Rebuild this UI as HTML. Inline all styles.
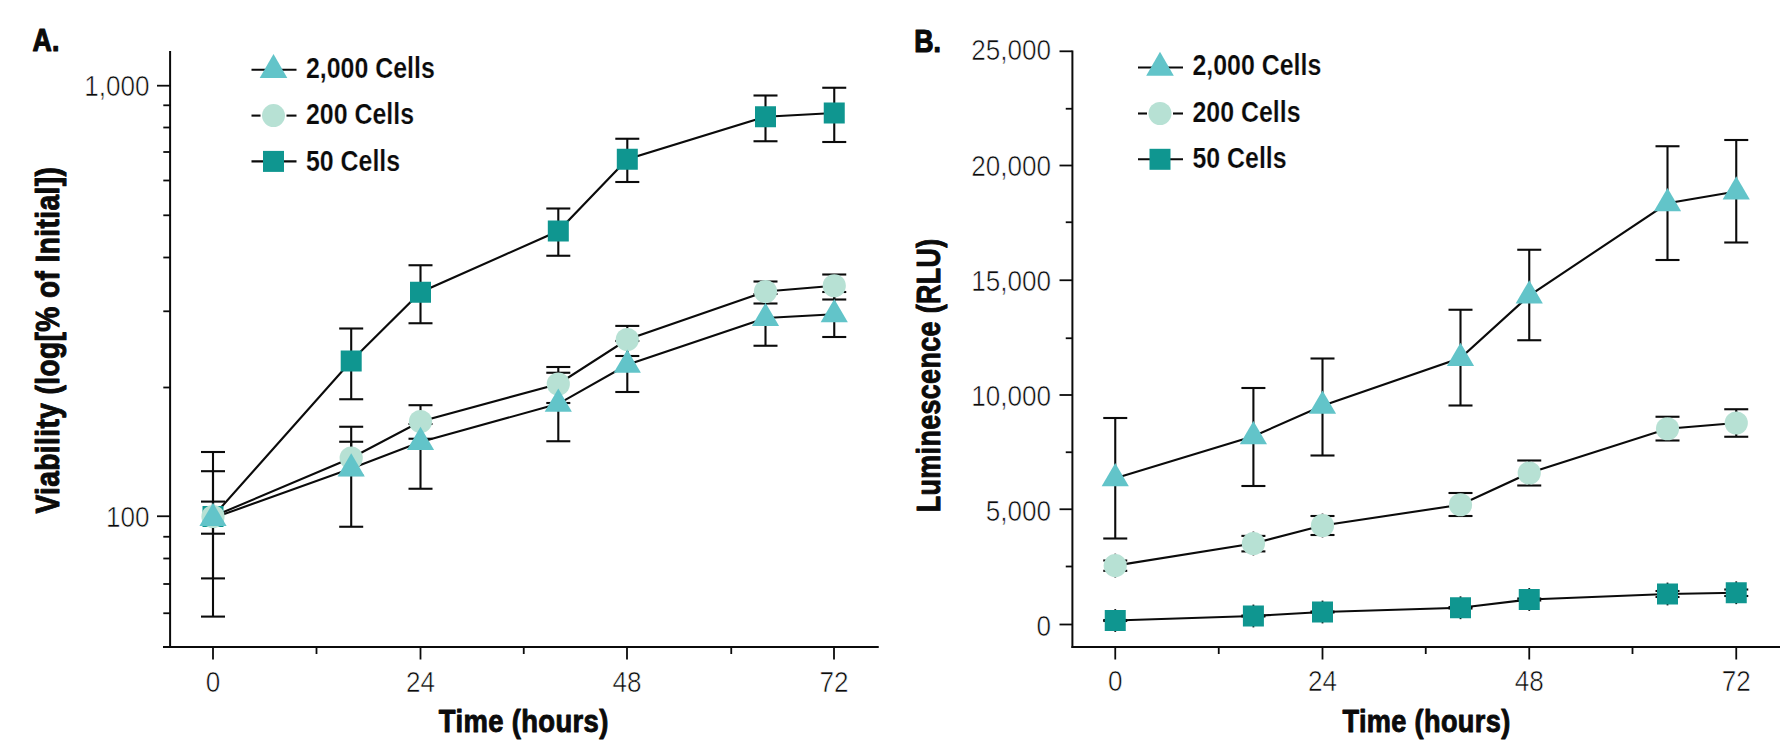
<!DOCTYPE html>
<html lang="en"><head><meta charset="utf-8"><title>Cell viability and luminescence over time</title>
<style>html,body{margin:0;padding:0;background:#fff}svg{display:block}text{white-space:pre}</style></head>
<body>
<svg width="1780" height="756" viewBox="0 0 1780 756" font-family="'Liberation Sans', sans-serif" fill="#0b0b0b">
<rect width="1780" height="756" fill="#fff"/>
<g stroke="#0b0b0b" stroke-linecap="butt">
<line x1="170.1" y1="51" x2="170.1" y2="647.9" stroke-width="2.0" />
<line x1="163" y1="647" x2="878.75" y2="647" stroke-width="2.0" />
<line x1="157" y1="85.7" x2="170.1" y2="85.7" stroke-width="1.8" />
<line x1="157" y1="516.25" x2="170.1" y2="516.25" stroke-width="1.8" />
<line x1="163.3" y1="105.3" x2="170.1" y2="105.3" stroke-width="1.8" />
<line x1="163.3" y1="127.5" x2="170.1" y2="127.5" stroke-width="1.8" />
<line x1="163.3" y1="152" x2="170.1" y2="152" stroke-width="1.8" />
<line x1="163.3" y1="180.5" x2="170.1" y2="180.5" stroke-width="1.8" />
<line x1="163.3" y1="215.3" x2="170.1" y2="215.3" stroke-width="1.8" />
<line x1="163.3" y1="257.5" x2="170.1" y2="257.5" stroke-width="1.8" />
<line x1="163.3" y1="311.3" x2="170.1" y2="311.3" stroke-width="1.8" />
<line x1="163.3" y1="387.5" x2="170.1" y2="387.5" stroke-width="1.8" />
<line x1="163.3" y1="536.75" x2="170.1" y2="536.75" stroke-width="1.8" />
<line x1="163.3" y1="558.5" x2="170.1" y2="558.5" stroke-width="1.8" />
<line x1="163.3" y1="584" x2="170.1" y2="584" stroke-width="1.8" />
<line x1="163.3" y1="613.25" x2="170.1" y2="613.25" stroke-width="1.8" />
<line x1="213" y1="647" x2="213" y2="659.5" stroke-width="1.8" />
<line x1="420.5" y1="647" x2="420.5" y2="659.5" stroke-width="1.8" />
<line x1="627" y1="647" x2="627" y2="659.5" stroke-width="1.8" />
<line x1="834" y1="647" x2="834" y2="659.5" stroke-width="1.8" />
<line x1="316.5" y1="647" x2="316.5" y2="654" stroke-width="1.8" />
<line x1="523.75" y1="647" x2="523.75" y2="654" stroke-width="1.8" />
<line x1="731.25" y1="647" x2="731.25" y2="654" stroke-width="1.8" />
<line x1="1072.4" y1="50.4" x2="1072.4" y2="647.9" stroke-width="2.0" />
<line x1="1071.5" y1="647" x2="1780" y2="647" stroke-width="2.0" />
<line x1="1059.5" y1="51.3" x2="1072.4" y2="51.3" stroke-width="1.8" />
<line x1="1059.5" y1="165.5" x2="1072.4" y2="165.5" stroke-width="1.8" />
<line x1="1059.5" y1="280.25" x2="1072.4" y2="280.25" stroke-width="1.8" />
<line x1="1059.5" y1="395" x2="1072.4" y2="395" stroke-width="1.8" />
<line x1="1059.5" y1="509.25" x2="1072.4" y2="509.25" stroke-width="1.8" />
<line x1="1059.5" y1="624.5" x2="1072.4" y2="624.5" stroke-width="1.8" />
<line x1="1065.75" y1="108.75" x2="1072.4" y2="108.75" stroke-width="1.8" />
<line x1="1065.75" y1="222.25" x2="1072.4" y2="222.25" stroke-width="1.8" />
<line x1="1065.75" y1="338.25" x2="1072.4" y2="338.25" stroke-width="1.8" />
<line x1="1065.75" y1="452.25" x2="1072.4" y2="452.25" stroke-width="1.8" />
<line x1="1065.75" y1="566.5" x2="1072.4" y2="566.5" stroke-width="1.8" />
<line x1="1115.25" y1="647" x2="1115.25" y2="659.5" stroke-width="1.8" />
<line x1="1322.5" y1="647" x2="1322.5" y2="659.5" stroke-width="1.8" />
<line x1="1529.25" y1="647" x2="1529.25" y2="659.5" stroke-width="1.8" />
<line x1="1736.25" y1="647" x2="1736.25" y2="659.5" stroke-width="1.8" />
<line x1="1218.75" y1="647" x2="1218.75" y2="654" stroke-width="1.8" />
<line x1="1425.75" y1="647" x2="1425.75" y2="654" stroke-width="1.8" />
<line x1="1632.5" y1="647" x2="1632.5" y2="654" stroke-width="1.8" />
<line x1="213" y1="452" x2="213" y2="616.6" stroke-width="2.1" />
<line x1="201.0" y1="452" x2="225.0" y2="452" stroke-width="2.1" />
<line x1="201.0" y1="616.6" x2="225.0" y2="616.6" stroke-width="2.1" />
<line x1="351.2" y1="328.5" x2="351.2" y2="399.25" stroke-width="2.1" />
<line x1="339.2" y1="328.5" x2="363.2" y2="328.5" stroke-width="2.1" />
<line x1="339.2" y1="399.25" x2="363.2" y2="399.25" stroke-width="2.1" />
<line x1="420.5" y1="265.25" x2="420.5" y2="323.25" stroke-width="2.1" />
<line x1="408.5" y1="265.25" x2="432.5" y2="265.25" stroke-width="2.1" />
<line x1="408.5" y1="323.25" x2="432.5" y2="323.25" stroke-width="2.1" />
<line x1="558.3" y1="208.5" x2="558.3" y2="255.75" stroke-width="2.1" />
<line x1="546.3" y1="208.5" x2="570.3" y2="208.5" stroke-width="2.1" />
<line x1="546.3" y1="255.75" x2="570.3" y2="255.75" stroke-width="2.1" />
<line x1="627.3" y1="138.75" x2="627.3" y2="182" stroke-width="2.1" />
<line x1="615.3" y1="138.75" x2="639.3" y2="138.75" stroke-width="2.1" />
<line x1="615.3" y1="182" x2="639.3" y2="182" stroke-width="2.1" />
<line x1="765.5" y1="95.5" x2="765.5" y2="141.25" stroke-width="2.1" />
<line x1="753.5" y1="95.5" x2="777.5" y2="95.5" stroke-width="2.1" />
<line x1="753.5" y1="141.25" x2="777.5" y2="141.25" stroke-width="2.1" />
<line x1="834.25" y1="87.75" x2="834.25" y2="142" stroke-width="2.1" />
<line x1="822.25" y1="87.75" x2="846.25" y2="87.75" stroke-width="2.1" />
<line x1="822.25" y1="142" x2="846.25" y2="142" stroke-width="2.1" />
<line x1="213" y1="471.2" x2="213" y2="578.4" stroke-width="2.1" />
<line x1="201.0" y1="471.2" x2="225.0" y2="471.2" stroke-width="2.1" />
<line x1="201.0" y1="578.4" x2="225.0" y2="578.4" stroke-width="2.1" />
<line x1="351.2" y1="441.75" x2="351.2" y2="475" stroke-width="2.1" />
<line x1="339.2" y1="441.75" x2="363.2" y2="441.75" stroke-width="2.1" />
<line x1="339.2" y1="475" x2="363.2" y2="475" stroke-width="2.1" />
<line x1="420.5" y1="405.2" x2="420.5" y2="438.75" stroke-width="2.1" />
<line x1="408.5" y1="405.2" x2="432.5" y2="405.2" stroke-width="2.1" />
<line x1="408.5" y1="438.75" x2="432.5" y2="438.75" stroke-width="2.1" />
<line x1="558.3" y1="367" x2="558.3" y2="403" stroke-width="2.1" />
<line x1="546.3" y1="367" x2="570.3" y2="367" stroke-width="2.1" />
<line x1="546.3" y1="403" x2="570.3" y2="403" stroke-width="2.1" />
<line x1="627.3" y1="325.9" x2="627.3" y2="356" stroke-width="2.1" />
<line x1="615.3" y1="325.9" x2="639.3" y2="325.9" stroke-width="2.1" />
<line x1="615.3" y1="356" x2="639.3" y2="356" stroke-width="2.1" />
<line x1="765.5" y1="281.5" x2="765.5" y2="303.5" stroke-width="2.1" />
<line x1="753.5" y1="281.5" x2="777.5" y2="281.5" stroke-width="2.1" />
<line x1="753.5" y1="303.5" x2="777.5" y2="303.5" stroke-width="2.1" />
<line x1="834.25" y1="274.5" x2="834.25" y2="299.5" stroke-width="2.1" />
<line x1="822.25" y1="274.5" x2="846.25" y2="274.5" stroke-width="2.1" />
<line x1="822.25" y1="299.5" x2="846.25" y2="299.5" stroke-width="2.1" />
<line x1="213" y1="501.6" x2="213" y2="533.7" stroke-width="2.1" />
<line x1="201.0" y1="501.6" x2="225.0" y2="501.6" stroke-width="2.1" />
<line x1="201.0" y1="533.7" x2="225.0" y2="533.7" stroke-width="2.1" />
<line x1="351.2" y1="426.75" x2="351.2" y2="526.75" stroke-width="2.1" />
<line x1="339.2" y1="426.75" x2="363.2" y2="426.75" stroke-width="2.1" />
<line x1="339.2" y1="526.75" x2="363.2" y2="526.75" stroke-width="2.1" />
<line x1="420.5" y1="424" x2="420.5" y2="488.75" stroke-width="2.1" />
<line x1="408.5" y1="424" x2="432.5" y2="424" stroke-width="2.1" />
<line x1="408.5" y1="488.75" x2="432.5" y2="488.75" stroke-width="2.1" />
<line x1="558.3" y1="372.75" x2="558.3" y2="441.25" stroke-width="2.1" />
<line x1="546.3" y1="372.75" x2="570.3" y2="372.75" stroke-width="2.1" />
<line x1="546.3" y1="441.25" x2="570.3" y2="441.25" stroke-width="2.1" />
<line x1="627.3" y1="341" x2="627.3" y2="392" stroke-width="2.1" />
<line x1="615.3" y1="341" x2="639.3" y2="341" stroke-width="2.1" />
<line x1="615.3" y1="392" x2="639.3" y2="392" stroke-width="2.1" />
<line x1="765.5" y1="294" x2="765.5" y2="345.75" stroke-width="2.1" />
<line x1="753.5" y1="294" x2="777.5" y2="294" stroke-width="2.1" />
<line x1="753.5" y1="345.75" x2="777.5" y2="345.75" stroke-width="2.1" />
<line x1="834.25" y1="292" x2="834.25" y2="337" stroke-width="2.1" />
<line x1="822.25" y1="292" x2="846.25" y2="292" stroke-width="2.1" />
<line x1="822.25" y1="337" x2="846.25" y2="337" stroke-width="2.1" />
<polyline fill="none" stroke-width="2.1" points="213,516.5 351.2,361 420.5,292.25 558.3,231 627.3,159.25 765.5,116.75 834.25,113"/>
<polyline fill="none" stroke-width="2.1" points="213,516.5 351.2,458 420.5,421.5 558.3,384 627.3,339.5 765.5,291.5 834.25,285.75"/>
<polyline fill="none" stroke-width="2.1" points="213,518.1 351.2,468.6 420.5,442.05 558.3,403.8 627.3,364.8 765.5,318.05 834.25,314.3"/>
</g><g>
<rect x="202.5" y="506.0" width="21" height="21" fill="#0F9690"/>
<rect x="340.7" y="350.5" width="21" height="21" fill="#0F9690"/>
<rect x="410.0" y="281.75" width="21" height="21" fill="#0F9690"/>
<rect x="547.8" y="220.5" width="21" height="21" fill="#0F9690"/>
<rect x="616.8" y="148.75" width="21" height="21" fill="#0F9690"/>
<rect x="755.0" y="106.25" width="21" height="21" fill="#0F9690"/>
<rect x="823.75" y="102.5" width="21" height="21" fill="#0F9690"/>
<circle cx="213" cy="516.5" r="11.6" fill="#B7E1D4"/>
<circle cx="351.2" cy="458" r="11.6" fill="#B7E1D4"/>
<circle cx="420.5" cy="421.5" r="11.6" fill="#B7E1D4"/>
<circle cx="558.3" cy="384" r="11.6" fill="#B7E1D4"/>
<circle cx="627.3" cy="339.5" r="11.6" fill="#B7E1D4"/>
<circle cx="765.5" cy="291.5" r="11.6" fill="#B7E1D4"/>
<circle cx="834.25" cy="285.75" r="11.6" fill="#B7E1D4"/>
<polygon points="213,502.8 199.4,526.1 226.6,526.1" fill="#62C4C9"/>
<polygon points="351.2,453.3 337.59999999999997,476.6 364.8,476.6" fill="#62C4C9"/>
<polygon points="420.5,426.75 406.9,450.05 434.1,450.05" fill="#62C4C9"/>
<polygon points="558.3,388.5 544.6999999999999,411.8 571.9,411.8" fill="#62C4C9"/>
<polygon points="627.3,349.5 613.6999999999999,372.8 640.9,372.8" fill="#62C4C9"/>
<polygon points="765.5,302.75 751.9,326.05 779.1,326.05" fill="#62C4C9"/>
<polygon points="834.25,299 820.65,322.3 847.85,322.3" fill="#62C4C9"/>
</g><g stroke="#0b0b0b">
<line x1="1115.25" y1="620" x2="1115.25" y2="621" stroke-width="2.1" />
<line x1="1103.25" y1="620" x2="1127.25" y2="620" stroke-width="2.1" />
<line x1="1103.25" y1="621" x2="1127.25" y2="621" stroke-width="2.1" />
<line x1="1115.25" y1="609.1" x2="1115.25" y2="631.9" stroke-width="1.8" />
<line x1="1253.4" y1="615.5" x2="1253.4" y2="616.5" stroke-width="2.1" />
<line x1="1241.4" y1="615.5" x2="1265.4" y2="615.5" stroke-width="2.1" />
<line x1="1241.4" y1="616.5" x2="1265.4" y2="616.5" stroke-width="2.1" />
<line x1="1253.4" y1="604.6" x2="1253.4" y2="627.4" stroke-width="1.8" />
<line x1="1322.5" y1="611.5" x2="1322.5" y2="612.5" stroke-width="2.1" />
<line x1="1310.5" y1="611.5" x2="1334.5" y2="611.5" stroke-width="2.1" />
<line x1="1310.5" y1="612.5" x2="1334.5" y2="612.5" stroke-width="2.1" />
<line x1="1322.5" y1="600.6" x2="1322.5" y2="623.4" stroke-width="1.8" />
<line x1="1460.5" y1="607" x2="1460.5" y2="608.5" stroke-width="2.1" />
<line x1="1448.5" y1="607" x2="1472.5" y2="607" stroke-width="2.1" />
<line x1="1448.5" y1="608.5" x2="1472.5" y2="608.5" stroke-width="2.1" />
<line x1="1460.5" y1="596.35" x2="1460.5" y2="619.15" stroke-width="1.8" />
<line x1="1529.25" y1="598.5" x2="1529.25" y2="600.5" stroke-width="2.1" />
<line x1="1517.25" y1="598.5" x2="1541.25" y2="598.5" stroke-width="2.1" />
<line x1="1517.25" y1="600.5" x2="1541.25" y2="600.5" stroke-width="2.1" />
<line x1="1529.25" y1="588.1" x2="1529.25" y2="610.9" stroke-width="1.8" />
<line x1="1667.5" y1="591" x2="1667.5" y2="597" stroke-width="2.1" />
<line x1="1655.5" y1="591" x2="1679.5" y2="591" stroke-width="2.1" />
<line x1="1655.5" y1="597" x2="1679.5" y2="597" stroke-width="2.1" />
<line x1="1667.5" y1="582.6" x2="1667.5" y2="605.4" stroke-width="1.8" />
<line x1="1736.25" y1="589.5" x2="1736.25" y2="596" stroke-width="2.1" />
<line x1="1724.25" y1="589.5" x2="1748.25" y2="589.5" stroke-width="2.1" />
<line x1="1724.25" y1="596" x2="1748.25" y2="596" stroke-width="2.1" />
<line x1="1736.25" y1="581.35" x2="1736.25" y2="604.15" stroke-width="1.8" />
<line x1="1115.25" y1="560.5" x2="1115.25" y2="570.8" stroke-width="2.1" />
<line x1="1103.25" y1="560.5" x2="1127.25" y2="560.5" stroke-width="2.1" />
<line x1="1103.25" y1="570.8" x2="1127.25" y2="570.8" stroke-width="2.1" />
<line x1="1115.25" y1="553.7" x2="1115.25" y2="577.5" stroke-width="1.8" />
<line x1="1253.4" y1="535.9" x2="1253.4" y2="551.4" stroke-width="2.1" />
<line x1="1241.4" y1="535.9" x2="1265.4" y2="535.9" stroke-width="2.1" />
<line x1="1241.4" y1="551.4" x2="1265.4" y2="551.4" stroke-width="2.1" />
<line x1="1253.4" y1="531.6" x2="1253.4" y2="555.4" stroke-width="1.8" />
<line x1="1322.5" y1="516" x2="1322.5" y2="535" stroke-width="2.1" />
<line x1="1310.5" y1="516" x2="1334.5" y2="516" stroke-width="2.1" />
<line x1="1310.5" y1="535" x2="1334.5" y2="535" stroke-width="2.1" />
<line x1="1322.5" y1="513.6" x2="1322.5" y2="537.4" stroke-width="1.8" />
<line x1="1460.5" y1="493" x2="1460.5" y2="516" stroke-width="2.1" />
<line x1="1448.5" y1="493" x2="1472.5" y2="493" stroke-width="2.1" />
<line x1="1448.5" y1="516" x2="1472.5" y2="516" stroke-width="2.1" />
<line x1="1460.5" y1="492.85" x2="1460.5" y2="516.65" stroke-width="1.8" />
<line x1="1529.25" y1="460.5" x2="1529.25" y2="485.5" stroke-width="2.1" />
<line x1="1517.25" y1="460.5" x2="1541.25" y2="460.5" stroke-width="2.1" />
<line x1="1517.25" y1="485.5" x2="1541.25" y2="485.5" stroke-width="2.1" />
<line x1="1529.25" y1="461.1" x2="1529.25" y2="484.9" stroke-width="1.8" />
<line x1="1667.5" y1="416.75" x2="1667.5" y2="440.5" stroke-width="2.1" />
<line x1="1655.5" y1="416.75" x2="1679.5" y2="416.75" stroke-width="2.1" />
<line x1="1655.5" y1="440.5" x2="1679.5" y2="440.5" stroke-width="2.1" />
<line x1="1667.5" y1="416.85" x2="1667.5" y2="440.65" stroke-width="1.8" />
<line x1="1736.25" y1="409.25" x2="1736.25" y2="436.75" stroke-width="2.1" />
<line x1="1724.25" y1="409.25" x2="1748.25" y2="409.25" stroke-width="2.1" />
<line x1="1724.25" y1="436.75" x2="1748.25" y2="436.75" stroke-width="2.1" />
<line x1="1736.25" y1="411.1" x2="1736.25" y2="434.9" stroke-width="1.8" />
<line x1="1115.25" y1="418" x2="1115.25" y2="538.5" stroke-width="2.1" />
<line x1="1103.25" y1="418" x2="1127.25" y2="418" stroke-width="2.1" />
<line x1="1103.25" y1="538.5" x2="1127.25" y2="538.5" stroke-width="2.1" />
<line x1="1253.4" y1="388" x2="1253.4" y2="486" stroke-width="2.1" />
<line x1="1241.4" y1="388" x2="1265.4" y2="388" stroke-width="2.1" />
<line x1="1241.4" y1="486" x2="1265.4" y2="486" stroke-width="2.1" />
<line x1="1322.5" y1="358.5" x2="1322.5" y2="455.5" stroke-width="2.1" />
<line x1="1310.5" y1="358.5" x2="1334.5" y2="358.5" stroke-width="2.1" />
<line x1="1310.5" y1="455.5" x2="1334.5" y2="455.5" stroke-width="2.1" />
<line x1="1460.5" y1="309.75" x2="1460.5" y2="405.5" stroke-width="2.1" />
<line x1="1448.5" y1="309.75" x2="1472.5" y2="309.75" stroke-width="2.1" />
<line x1="1448.5" y1="405.5" x2="1472.5" y2="405.5" stroke-width="2.1" />
<line x1="1529.25" y1="249.75" x2="1529.25" y2="340.25" stroke-width="2.1" />
<line x1="1517.25" y1="249.75" x2="1541.25" y2="249.75" stroke-width="2.1" />
<line x1="1517.25" y1="340.25" x2="1541.25" y2="340.25" stroke-width="2.1" />
<line x1="1667.5" y1="146.25" x2="1667.5" y2="260" stroke-width="2.1" />
<line x1="1655.5" y1="146.25" x2="1679.5" y2="146.25" stroke-width="2.1" />
<line x1="1655.5" y1="260" x2="1679.5" y2="260" stroke-width="2.1" />
<line x1="1736.25" y1="140" x2="1736.25" y2="242.5" stroke-width="2.1" />
<line x1="1724.25" y1="140" x2="1748.25" y2="140" stroke-width="2.1" />
<line x1="1724.25" y1="242.5" x2="1748.25" y2="242.5" stroke-width="2.1" />
<polyline fill="none" stroke-width="2.1" points="1115.25,620.5 1253.4,616 1322.5,612 1460.5,607.75 1529.25,599.5 1667.5,594 1736.25,592.75"/>
<polyline fill="none" stroke-width="2.1" points="1115.25,565.6 1253.4,543.5 1322.5,525.5 1460.5,504.75 1529.25,473 1667.5,428.75 1736.25,423"/>
<polyline fill="none" stroke-width="2.1" points="1115.25,478.3 1253.4,436.3 1322.5,405.8 1460.5,358.05 1529.25,295.55 1667.5,203.3 1736.25,191.55"/>
</g><g>
<rect x="1104.75" y="610.0" width="21" height="21" fill="#0F9690"/>
<rect x="1242.9" y="605.5" width="21" height="21" fill="#0F9690"/>
<rect x="1312.0" y="601.5" width="21" height="21" fill="#0F9690"/>
<rect x="1450.0" y="597.25" width="21" height="21" fill="#0F9690"/>
<rect x="1518.75" y="589.0" width="21" height="21" fill="#0F9690"/>
<rect x="1657.0" y="583.5" width="21" height="21" fill="#0F9690"/>
<rect x="1725.75" y="582.25" width="21" height="21" fill="#0F9690"/>
<circle cx="1115.25" cy="565.6" r="11.6" fill="#B7E1D4"/>
<circle cx="1253.4" cy="543.5" r="11.6" fill="#B7E1D4"/>
<circle cx="1322.5" cy="525.5" r="11.6" fill="#B7E1D4"/>
<circle cx="1460.5" cy="504.75" r="11.6" fill="#B7E1D4"/>
<circle cx="1529.25" cy="473" r="11.6" fill="#B7E1D4"/>
<circle cx="1667.5" cy="428.75" r="11.6" fill="#B7E1D4"/>
<circle cx="1736.25" cy="423" r="11.6" fill="#B7E1D4"/>
<polygon points="1115.25,463 1101.65,486.3 1128.85,486.3" fill="#62C4C9"/>
<polygon points="1253.4,421 1239.8000000000002,444.3 1267.0,444.3" fill="#62C4C9"/>
<polygon points="1322.5,390.5 1308.9,413.8 1336.1,413.8" fill="#62C4C9"/>
<polygon points="1460.5,342.75 1446.9,366.05 1474.1,366.05" fill="#62C4C9"/>
<polygon points="1529.25,280.25 1515.65,303.55 1542.85,303.55" fill="#62C4C9"/>
<polygon points="1667.5,188 1653.9,211.3 1681.1,211.3" fill="#62C4C9"/>
<polygon points="1736.25,176.25 1722.65,199.55 1749.85,199.55" fill="#62C4C9"/>
</g>
<g stroke="#0b0b0b">
<line x1="251.5" y1="69.7" x2="296.5" y2="69.7" stroke-width="2.1" />
<line x1="251.5" y1="115.6" x2="260.5" y2="115.6" stroke-width="2.1" />
<line x1="286.5" y1="115.6" x2="296.5" y2="115.6" stroke-width="2.1" />
<line x1="251.5" y1="161.4" x2="296.5" y2="161.4" stroke-width="2.1" />
</g>
<polygon points="273.5,54.0 259.7,77.9 287.3,77.9" fill="#62C4C9"/>
<circle cx="273.5" cy="115.6" r="11.5" fill="#B7E1D4"/>
<rect x="263.0" y="150.9" width="21" height="21" fill="#0F9690"/>
<text transform="translate(306,77.7) scale(0.825,1)" font-size="30.2" font-weight="bold" text-anchor="start" stroke="#fff" stroke-width="0.2">2,000 Cells</text>
<text transform="translate(306,124.2) scale(0.825,1)" font-size="30.2" font-weight="bold" text-anchor="start" stroke="#fff" stroke-width="0.2">200 Cells</text>
<text transform="translate(306,170.6) scale(0.825,1)" font-size="30.2" font-weight="bold" text-anchor="start" stroke="#fff" stroke-width="0.2">50 Cells</text>
<g stroke="#0b0b0b">
<line x1="1138" y1="67.5" x2="1183" y2="67.5" stroke-width="2.1" />
<line x1="1138" y1="113.5" x2="1147" y2="113.5" stroke-width="2.1" />
<line x1="1173" y1="113.5" x2="1183" y2="113.5" stroke-width="2.1" />
<line x1="1138" y1="159.3" x2="1183" y2="159.3" stroke-width="2.1" />
</g>
<polygon points="1160,51.8 1146.2,75.69999999999999 1173.8,75.69999999999999" fill="#62C4C9"/>
<circle cx="1160" cy="113.5" r="11.5" fill="#B7E1D4"/>
<rect x="1149.5" y="148.8" width="21" height="21" fill="#0F9690"/>
<text transform="translate(1192.5,75.3) scale(0.825,1)" font-size="30.2" font-weight="bold" text-anchor="start" stroke="#fff" stroke-width="0.2">2,000 Cells</text>
<text transform="translate(1192.5,121.6) scale(0.825,1)" font-size="30.2" font-weight="bold" text-anchor="start" stroke="#fff" stroke-width="0.2">200 Cells</text>
<text transform="translate(1192.5,168) scale(0.825,1)" font-size="30.2" font-weight="bold" text-anchor="start" stroke="#fff" stroke-width="0.2">50 Cells</text>
<text transform="translate(149.5,96) scale(0.865,1)" font-size="30.2" font-weight="normal" text-anchor="end" stroke="#fff" stroke-width="0.6">1,000</text>
<text transform="translate(149.5,526.5) scale(0.865,1)" font-size="30.2" font-weight="normal" text-anchor="end" stroke="#fff" stroke-width="0.6">100</text>
<text transform="translate(213,692.3) scale(0.865,1)" font-size="30.2" font-weight="normal" text-anchor="middle" stroke="#fff" stroke-width="0.6">0</text>
<text transform="translate(420.5,692.3) scale(0.865,1)" font-size="30.2" font-weight="normal" text-anchor="middle" stroke="#fff" stroke-width="0.6">24</text>
<text transform="translate(627,692.3) scale(0.865,1)" font-size="30.2" font-weight="normal" text-anchor="middle" stroke="#fff" stroke-width="0.6">48</text>
<text transform="translate(834,692.3) scale(0.865,1)" font-size="30.2" font-weight="normal" text-anchor="middle" stroke="#fff" stroke-width="0.6">72</text>
<text transform="translate(1051,60.4) scale(0.865,1)" font-size="30.2" font-weight="normal" text-anchor="end" stroke="#fff" stroke-width="0.6">25,000</text>
<text transform="translate(1051,175.5) scale(0.865,1)" font-size="30.2" font-weight="normal" text-anchor="end" stroke="#fff" stroke-width="0.6">20,000</text>
<text transform="translate(1051,290.59999999999997) scale(0.865,1)" font-size="30.2" font-weight="normal" text-anchor="end" stroke="#fff" stroke-width="0.6">15,000</text>
<text transform="translate(1051,405.69999999999993) scale(0.865,1)" font-size="30.2" font-weight="normal" text-anchor="end" stroke="#fff" stroke-width="0.6">10,000</text>
<text transform="translate(1051,520.8) scale(0.865,1)" font-size="30.2" font-weight="normal" text-anchor="end" stroke="#fff" stroke-width="0.6">5,000</text>
<text transform="translate(1051,635.9) scale(0.865,1)" font-size="30.2" font-weight="normal" text-anchor="end" stroke="#fff" stroke-width="0.6">0</text>
<text transform="translate(1115.25,691) scale(0.865,1)" font-size="30.2" font-weight="normal" text-anchor="middle" stroke="#fff" stroke-width="0.6">0</text>
<text transform="translate(1322.5,691) scale(0.865,1)" font-size="30.2" font-weight="normal" text-anchor="middle" stroke="#fff" stroke-width="0.6">24</text>
<text transform="translate(1529.25,691) scale(0.865,1)" font-size="30.2" font-weight="normal" text-anchor="middle" stroke="#fff" stroke-width="0.6">48</text>
<text transform="translate(1736.25,691) scale(0.865,1)" font-size="30.2" font-weight="normal" text-anchor="middle" stroke="#fff" stroke-width="0.6">72</text>
<text transform="translate(523.75,732.3) scale(0.897,1)" font-size="30.6" font-weight="bold" text-anchor="middle" stroke="#0b0b0b" stroke-width="0.9" stroke-linejoin="round" letter-spacing="0.4">Time (hours)</text>
<text transform="translate(1426.5,732.3) scale(0.887,1)" font-size="30.6" font-weight="bold" text-anchor="middle" stroke="#0b0b0b" stroke-width="0.9" stroke-linejoin="round" letter-spacing="0.4">Time (hours)</text>
<text transform="translate(32.6,51.2) scale(0.84,1)" font-size="31.8" font-weight="bold" text-anchor="start" stroke="#0b0b0b" stroke-width="1.2" stroke-linejoin="round">A.</text>
<text transform="translate(914.2,52.1) scale(0.84,1)" font-size="31.8" font-weight="bold" text-anchor="start" stroke="#0b0b0b" stroke-width="1.2" stroke-linejoin="round">B.</text>
<text transform="translate(59.0,340.2) rotate(-90) scale(0.833,1)" font-size="33.7" font-weight="bold" text-anchor="middle" stroke="#0b0b0b" stroke-width="1.0" stroke-linejoin="round" letter-spacing="0.5">Viability (log[% of Initial])</text>
<text transform="translate(939.6,375.3) rotate(-90) scale(0.796,1)" font-size="33.7" font-weight="bold" text-anchor="middle" stroke="#0b0b0b" stroke-width="1.0" stroke-linejoin="round" letter-spacing="0.5">Luminescence (RLU)</text>
</svg>
</body></html>
